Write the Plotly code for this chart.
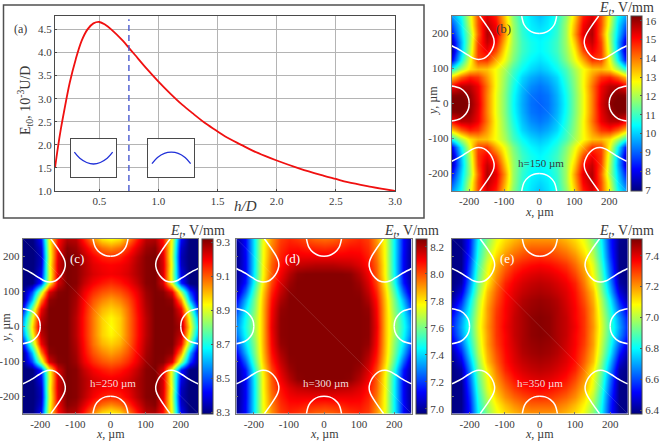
import plotly.graph_objects as go

W, H = 660, 442

# ---------- panel (a) data ----------
hD = [0.125, 0.15, 0.175, 0.2, 0.25, 0.3, 0.35, 0.4, 0.45, 0.5, 0.55, 0.6, 0.7, 0.75, 0.8, 0.9,
      1.0, 1.1, 1.2, 1.3, 1.4, 1.5, 1.6, 1.7, 1.8, 1.9, 2.0, 2.2, 2.4, 2.5, 2.6, 2.8, 3.0]
E0 = [1.5, 1.95, 2.35, 2.7, 3.35, 3.85, 4.25, 4.5, 4.63, 4.66, 4.6, 4.5, 4.25, 4.1, 3.95, 3.65,
      3.37, 3.11, 2.87, 2.66, 2.46, 2.29, 2.13, 2.0, 1.87, 1.76, 1.66, 1.48, 1.33, 1.26, 1.19, 1.09, 1.0]
dash_x = [0.75, 0.75]
dash_y = [1.0, 4.72]
a_xticks = [0.5, 1.0, 1.5, 2.0, 2.5, 3.0]
a_yticks = [1.0, 1.5, 2.0, 2.5, 3.0, 3.5, 4.0, 4.5]
inset1_x = [0.08, 0.2, 0.35, 0.5, 0.65, 0.8, 0.92]
inset1_y = [0.66, 0.5, 0.39, 0.35, 0.39, 0.5, 0.66]
inset2_x = [0.08, 0.2, 0.35, 0.5, 0.65, 0.8, 0.92]
inset2_y = [0.36, 0.52, 0.63, 0.66, 0.63, 0.52, 0.36]

# ---------- heat map grids: quadrant x>=0, y>=0, rows are y ----------
grid = [0, 25, 50, 75, 100, 125, 150, 175, 200, 225, 250]
z_b = [
    [9.0, 9.15, 9.7, 10.5, 11.6, 12.6, 13.9, 15.4, 16.1, 16.4, 16.5],
    [9.05, 9.2, 9.75, 10.55, 11.6, 12.6, 13.9, 15.3, 16.0, 16.2, 16.1],
    [9.2, 9.4, 9.9, 10.7, 11.7, 12.7, 14.0, 15.2, 15.7, 15.7, 15.1],
    [9.5, 9.7, 10.1, 10.9, 11.8, 12.7, 13.7, 14.6, 14.8, 14.2, 13.2],
    [9.9, 10.1, 10.5, 11.1, 12.0, 12.7, 13.3, 13.4, 13.0, 12.0, 10.6],
    [10.2, 10.4, 10.8, 11.6, 12.6, 13.5, 14.6, 14.5, 12.6, 10.4, 8.0],
    [10.4, 10.6, 11.0, 11.8, 12.9, 14.4, 15.2, 14.6, 12.2, 9.8, 7.3],
    [10.4, 10.6, 11.0, 11.9, 13.3, 15.0, 15.6, 14.5, 12.0, 9.7, 7.5],
    [10.3, 10.4, 10.9, 11.9, 13.7, 15.3, 15.8, 14.2, 11.9, 10.0, 8.2],
    [10.1, 10.3, 10.8, 11.9, 13.5, 15.1, 15.7, 14.4, 12.3, 10.2, 8.8],
    [9.9, 10.2, 10.7, 11.7, 13.2, 14.8, 15.4, 14.4, 12.5, 10.5, 9.5],
]
z_c = [
    [8.93, 8.98, 9.07, 9.17, 9.26, 9.32, 9.32, 9.32, 9.28, 8.95, 8.6],
    [8.94, 8.98, 9.07, 9.17, 9.26, 9.32, 9.32, 9.32, 9.25, 8.9, 8.55],
    [8.98, 9.01, 9.08, 9.18, 9.27, 9.32, 9.32, 9.32, 9.2, 8.8, 8.42],
    [9.03, 9.06, 9.11, 9.19, 9.28, 9.32, 9.32, 9.3, 9.05, 8.6, 8.3],
    [9.09, 9.11, 9.15, 9.21, 9.29, 9.32, 9.31, 9.22, 8.85, 8.48, 8.3],
    [9.15, 9.17, 9.2, 9.25, 9.31, 9.32, 9.23, 8.9, 8.45, 8.28, 8.28],
    [9.2, 9.21, 9.23, 9.27, 9.31, 9.32, 9.23, 8.88, 8.4, 8.28, 8.28],
    [9.19, 9.2, 9.22, 9.27, 9.31, 9.32, 9.23, 8.9, 8.36, 8.28, 8.28],
    [9.15, 9.16, 9.2, 9.26, 9.31, 9.32, 9.22, 8.88, 8.35, 8.28, 8.28],
    [9.05, 9.08, 9.14, 9.22, 9.29, 9.31, 9.2, 8.9, 8.37, 8.28, 8.28],
    [8.93, 8.96, 9.05, 9.16, 9.26, 9.27, 9.18, 8.92, 8.42, 8.28, 8.28],
]
z_d = [
    [8.25, 8.25, 8.25, 8.25, 8.25, 8.24, 8.12, 7.85, 7.65, 7.48, 7.3],
    [8.25, 8.25, 8.25, 8.25, 8.25, 8.24, 8.11, 7.85, 7.65, 7.46, 7.27],
    [8.25, 8.25, 8.25, 8.25, 8.25, 8.23, 8.1, 7.85, 7.62, 7.42, 7.2],
    [8.25, 8.25, 8.25, 8.25, 8.25, 8.2, 8.08, 7.84, 7.6, 7.35, 7.12],
    [8.25, 8.25, 8.25, 8.25, 8.24, 8.17, 8.05, 7.82, 7.55, 7.25, 7.03],
    [8.25, 8.25, 8.25, 8.25, 8.22, 8.14, 8.01, 7.78, 7.48, 7.15, 7.0],
    [8.25, 8.25, 8.25, 8.24, 8.19, 8.11, 7.98, 7.76, 7.45, 7.12, 6.99],
    [8.19, 8.19, 8.18, 8.17, 8.14, 8.08, 7.97, 7.76, 7.44, 7.12, 6.98],
    [8.12, 8.12, 8.12, 8.12, 8.11, 8.06, 7.95, 7.75, 7.44, 7.12, 6.98],
    [8.04, 8.05, 8.06, 8.08, 8.08, 8.04, 7.93, 7.75, 7.44, 7.13, 6.98],
    [7.96, 7.97, 8.0, 8.03, 8.05, 8.02, 7.91, 7.74, 7.44, 7.13, 7.0],
]
z_e = [
    [7.5, 7.49, 7.46, 7.43, 7.38, 7.31, 7.2, 7.05, 6.87, 6.7, 6.55],
    [7.5, 7.49, 7.46, 7.43, 7.37, 7.31, 7.19, 7.04, 6.86, 6.68, 6.53],
    [7.49, 7.48, 7.46, 7.42, 7.37, 7.3, 7.19, 7.02, 6.83, 6.62, 6.48],
    [7.48, 7.47, 7.45, 7.41, 7.36, 7.28, 7.17, 7.0, 6.79, 6.55, 6.42],
    [7.46, 7.45, 7.43, 7.4, 7.35, 7.26, 7.15, 6.96, 6.73, 6.48, 6.39],
    [7.44, 7.43, 7.41, 7.38, 7.33, 7.23, 7.1, 6.93, 6.68, 6.42, 6.38],
    [7.41, 7.4, 7.38, 7.35, 7.29, 7.2, 7.07, 6.9, 6.64, 6.4, 6.38],
    [7.37, 7.36, 7.34, 7.31, 7.25, 7.17, 7.05, 6.87, 6.61, 6.39, 6.38],
    [7.32, 7.31, 7.29, 7.26, 7.21, 7.13, 7.01, 6.84, 6.58, 6.39, 6.38],
    [7.26, 7.26, 7.24, 7.21, 7.16, 7.09, 6.98, 6.82, 6.56, 6.39, 6.38],
    [7.2, 7.2, 7.19, 7.16, 7.12, 7.06, 6.95, 6.8, 6.55, 6.4, 6.38],
]

# ---------- white electrode outlines (one quadrant of each) ----------
top_arc_x = [0, 15, 30, 43, 50]
top_arc_y = [200, 202, 210, 225, 250]
corner_x = [250, 225, 203, 187, 174, 158, 146, 135, 129, 130, 136, 150, 170]
corner_y = [165, 152, 138, 129, 126, 129, 138, 153, 171, 186, 200, 222, 250]
seam_x = [-250, 250]
seam_y = [250, -250]

x_ticks = [-200, -100, 0, 100, 200]
x_labels = ["-200", "-100", "0", "100", "200"]

cb_b = [7, 8, 9, 10, 11, 12, 13, 14, 15, 16]
cb_c = [8.3, 8.5, 8.7, 8.9, 9.1, 9.3]
cb_d = [7.0, 7.2, 7.4, 7.6, 7.8, 8.0, 8.2]
cb_e = [6.4, 6.6, 6.8, 7.0, 7.2, 7.4]

JET = [[0, "#00007f"], [0.125, "#0000ff"], [0.375, "#00ffff"], [0.625, "#ffff00"],
       [0.875, "#ff0000"], [1, "#7f0000"]]

FONT = "Liberation Serif"
INK = "#3a3a3a"
LINE = "#4a4a4a"


def px(x):
    return x / W


def py(y):
    return 1 - y / H


def mirror(values, sign=1):
    return [sign * v for v in values[:0:-1]] + list(values)


def full(zq):
    rows = [row[:0:-1] + row for row in zq]
    return rows[:0:-1] + rows


fig = go.Figure()
layout = dict(
    width=W, height=H, autosize=False, margin=dict(l=0, r=0, t=0, b=0, autoexpand=False),
    paper_bgcolor="white", plot_bgcolor="white", showlegend=False,
    font=dict(family=FONT, size=11, color=INK),
)
shapes, notes = [], []


def note(x, y, text, size=11, color=INK, angle=0, xanchor="center"):
    notes.append(dict(x=px(x), y=py(y), xref="paper", yref="paper", text=text, showarrow=False,
                      font=dict(family=FONT, size=size, color=color), textangle=angle,
                      xanchor=xanchor, yanchor="middle"))


# ---------- panel (a) ----------
layout["xaxis"] = dict(domain=[px(55), px(395)], range=[0.125, 3.0], tickvals=a_xticks,
                       ticktext=["%.1f" % v for v in a_xticks], showgrid=True, gridcolor="#b4b4b4",
                       gridwidth=1.2, showline=True, mirror=True, linecolor=LINE, linewidth=1.2,
                       ticks="inside", ticklen=2, tickcolor=LINE, zeroline=False, anchor="y",
                       tickfont=dict(size=11, color=INK))
layout["yaxis"] = dict(domain=[py(191), py(16)], range=[1.0, 4.79], tickvals=a_yticks,
                       ticktext=["%.1f" % v for v in a_yticks], showgrid=True, gridcolor="#b4b4b4",
                       gridwidth=1.2, showline=True, mirror=True, linecolor=LINE, linewidth=1.2,
                       ticks="inside", ticklen=2, tickcolor=LINE, zeroline=False, anchor="x",
                       tickfont=dict(size=11, color=INK))
fig.add_trace(go.Scatter(x=hD, y=E0, mode="lines", line=dict(color="#f01010", width=1.8, shape="spline"),
                         xaxis="x", yaxis="y"))
fig.add_trace(go.Scatter(x=dash_x, y=dash_y, mode="lines", line=dict(color="#4a5ad0", width=1.4, dash="6px,4px"),
                         xaxis="x", yaxis="y"))

for ax, (l, r), ix, iy in [("6", (70.7, 116.3), inset1_x, inset1_y), ("7", (148.3, 194.3), inset2_x, inset2_y)]:
    layout["xaxis" + ax] = dict(domain=[px(l), px(r)], range=[0, 1], showgrid=False, zeroline=False,
                                showticklabels=False, ticks="", showline=True, mirror=True,
                                linecolor=LINE, linewidth=1.2, anchor="y" + ax)
    layout["yaxis" + ax] = dict(domain=[py(177.3), py(139.3)], range=[0, 1], showgrid=False, zeroline=False,
                                showticklabels=False, ticks="", showline=True, mirror=True,
                                linecolor=LINE, linewidth=1.2, anchor="x" + ax)
    fig.add_trace(go.Scatter(x=ix, y=iy, mode="lines", line=dict(color="#2030d8", width=1.3, shape="spline"),
                             xaxis="x" + ax, yaxis="y" + ax))

# outer frame of panel (a)
shapes.append(dict(type="rect", xref="paper", yref="paper", x0=px(3.5), x1=px(424), y0=py(218), y1=py(5),
                   line=dict(color="#505050", width=1.5)))

note(20, 29, "(a)", 12)
note(25, 101, "E<sub>t0</sub>, 10<sup>-3</sup>U/D", 14, angle=-90)
note(245, 206, "<i>h/D</i>", 15)

# ---------- heat-map panels ----------
panels = [
    ("2", z_b, (451.7, 626.7), (16, 191), (630.7, 641.7), 6.95, 16.25, cb_b, "%d", True, True,
     "(b)", (503, 29), INK, "h=150 µm", (541, 163), INK),
    ("3", z_c, (22.7, 198.3), (238.7, 413.7), (202, 213), 8.29, 9.32, cb_c, "%.1f", True, True,
     "(c)", (77, 258), "white", "h=250 µm", (113, 383), "#f4dcdc"),
    ("4", z_d, (236.3, 411.7), (238.7, 413.7), (415.7, 426.7), 6.965, 8.26, cb_d, "%.1f", True, False,
     "(d)", (292, 258), "white", "h=300 µm", (326, 383), "#f4dcdc"),
    ("5", z_e, (452, 627.7), (238.7, 413.7), (631.3, 642.3), 6.376, 7.51, cb_e, "%.1f", True, False,
     "(e)", (507, 258), "white", "h=350 µm", (540, 383), "#f4dcdc"),
]

for i, (ax, zq, (l, r), (t, b), (cl, cr), zmin, zmax, cbt, fmt, xlab, ylab, lab, labpos, labcol, hlab, hpos, hcol) in enumerate(panels):
    layout["xaxis" + ax] = dict(domain=[px(l), px(r)], range=[-250, 250], tickvals=x_ticks, ticktext=x_labels,
                                showticklabels=xlab, ticks="inside", ticklen=2, tickcolor="#777", showgrid=False,
                                zeroline=False, showline=True, mirror=True, linecolor="#777", linewidth=1,
                                anchor="y" + ax, tickfont=dict(size=11, color=INK))
    layout["yaxis" + ax] = dict(domain=[py(b), py(t)], range=[-250, 250], tickvals=x_ticks, ticktext=x_labels,
                                showticklabels=ylab, ticks="inside", ticklen=2, tickcolor="#777", showgrid=False,
                                zeroline=False, showline=True, mirror=True, linecolor="#777", linewidth=1,
                                anchor="x" + ax, tickfont=dict(size=11, color=INK))
    fig.add_trace(go.Heatmap(
        x=mirror(grid, -1)[:len(grid) - 1] + grid, y=mirror(grid, -1)[:len(grid) - 1] + grid, z=full(zq),
        zmin=zmin, zmax=zmax, zsmooth="best", colorscale=JET, xaxis="x" + ax, yaxis="y" + ax,
        colorbar=dict(x=px(cl), xanchor="left", xref="paper", y=py(b), yanchor="bottom", yref="paper",
                      len=(b - t) / H, lenmode="fraction", thickness=cr - cl, thicknessmode="pixels",
                      xpad=0, ypad=0, outlinecolor=LINE, outlinewidth=1, tickvals=cbt,
                      ticktext=[fmt % v for v in cbt], ticks="inside", ticklen=2, tickcolor="#555",
                      tickfont=dict(family=FONT, size=11, color=INK)),
    ))
    fig.add_trace(go.Scatter(x=seam_x, y=seam_y, mode="lines", line=dict(color="rgba(255,255,255,0.12)", width=1),
                             xaxis="x" + ax, yaxis="y" + ax))
    for sx in (1, -1):
        # top and bottom arcs, side arcs, corners
        for sy in (1, -1):
            fig.add_trace(go.Scatter(x=[sx * v for v in corner_x], y=[sy * v for v in corner_y], mode="lines",
                                     line=dict(color="white", width=1.5, shape="spline"),
                                     xaxis="x" + ax, yaxis="y" + ax))
            fig.add_trace(go.Scatter(x=[sx * v for v in top_arc_x], y=[sy * v for v in top_arc_y], mode="lines",
                                     line=dict(color="white", width=1.5, shape="spline"),
                                     xaxis="x" + ax, yaxis="y" + ax))
            fig.add_trace(go.Scatter(x=[sx * v for v in top_arc_y], y=[sy * v for v in top_arc_x], mode="lines",
                                     line=dict(color="white", width=1.5, shape="spline"),
                                     xaxis="x" + ax, yaxis="y" + ax))
    note(labpos[0], labpos[1], lab, 13, labcol)
    note(hpos[0], hpos[1], hlab, 11, hcol)
    note((l + r) / 2, b + 20.5, "<i>x</i>, µm", 12)
    note(cr + 14, t - 7.5, "<i>E<sub>t</sub></i>, V/mm", 14, xanchor="right")

note(433, 100, "<i>y</i>, µm", 12, angle=-90)
note(6, 328, "<i>y</i>, µm", 12, angle=-90)

layout["shapes"] = shapes
layout["annotations"] = notes
fig.update_layout(**layout)
fig.write_html("out.html", post_script="document.body.style.margin='0';", config=dict(displayModeBar=False))
